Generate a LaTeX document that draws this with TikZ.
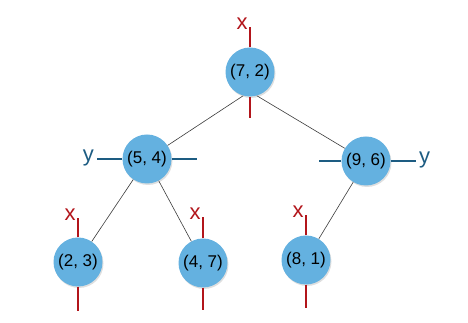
\documentclass[tikz,border=0pt]{standalone}
\usepackage{fontspec}
\setsansfont{Liberation Sans}
\usepackage{xcolor}
\usepackage{tikz}
\usetikzlibrary{shadows}
\definecolor{sky}{HTML}{64B1E0}
\definecolor{cutred}{HTML}{B2151B}
\definecolor{cutblue}{HTML}{1D5C82}
\definecolor{edgegray}{HTML}{3A3A3A}

\begin{document}
\begin{tikzpicture}[
  x=1pt,y=1pt,
  font=\sffamily,
  pt/.style={circle,fill=sky,minimum size=49pt,inner sep=0pt,
    font=\sffamily\fontsize{17}{19}\selectfont,
    drop shadow={opacity=0.25,shadow xshift=1pt,shadow yshift=-1.5pt}},
  xcut/.style={draw=cutred,line width=2.8pt},
  ycut/.style={draw=cutblue,line width=2.8pt},
  xlab/.style={text=cutred,anchor=base east,inner sep=1pt,yshift=-2pt,
    font=\sffamily\fontsize{22}{24}\selectfont},
  ylab/.style={text=cutblue,inner sep=2pt,yshift=1pt,
    font=\sffamily\fontsize{22}{24}\selectfont},
  edge/.style={draw=edgegray,line width=0.6pt}
]
\useasboundingbox (0,0) rectangle (468,323);
\node[pt] (r) at (250,251) {(7, 2)};
\node[pt] (l) at (147,164) {(5, 4)};
\node[pt] (rt) at (366,162) {(9, 6)};
\node[pt] (ll) at (78,61) {(2, 3)};
\node[pt] (lr) at (203,60) {(4, 7)};
\node[pt] (rl) at (306,63) {(8, 1)};
\draw[edge] (r.254)--(l); \draw[edge] (r.286)--(rt);
\draw[edge] (l)--(ll); \draw[edge] (l)--(lr); \draw[edge] (rt)--(rl);
% splitting lines
\draw[xcut] (r.north) -- ++(0,20) node[xlab] {x};
\draw[xcut] (r.south) -- ++(0,-21);
\draw[ycut] (l.west) -- ++(-25,0) node[ylab,anchor=east] {y};
\draw[ycut] (l.east) -- ++(25,0);
\draw[ycut] (rt.west) -- ++(-22,0);
\draw[ycut] (rt.east) -- ++(25,0) node[ylab,anchor=west] {y};
\draw[xcut] (ll.north) -- ++(0,19) node[xlab] {x};
\draw[xcut] (ll.south) -- ++(0,-24);
\draw[xcut] (lr.north) -- ++(0,21) node[xlab] {x};
\draw[xcut] (lr.south) -- ++(0,-22);
\draw[xcut] (rl.north) -- ++(0,20) node[xlab] {x};
\draw[xcut] (rl.south) -- ++(0,-23);
\end{tikzpicture}
\end{document}
